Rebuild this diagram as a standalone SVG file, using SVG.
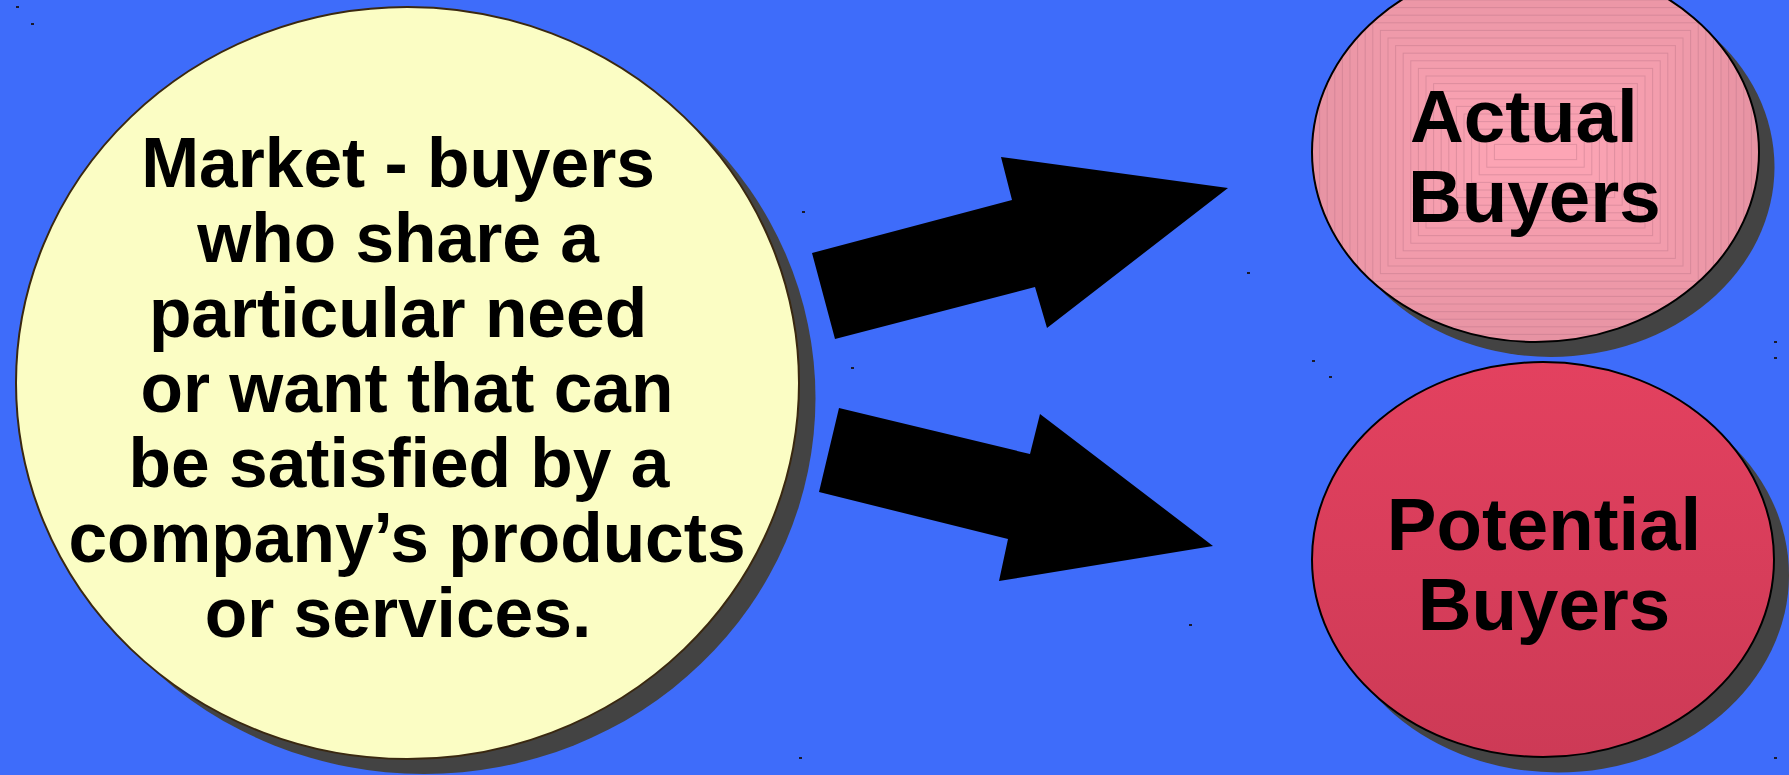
<svg xmlns="http://www.w3.org/2000/svg" width="1789" height="775" viewBox="0 0 1789 775">
  <style>
    .shadow { fill: #434343; }
    .lbl { font-family: "Liberation Sans", Arial, sans-serif; font-weight: bold; fill: #000000; }
    .big { font-size: 69.5px; text-anchor: middle; }
    .side { font-size: 74.5px; }
    .arrow { fill: #000000; }
    .speck { fill: #1a1a2a; }
    .ring { stroke: rgba(175,110,130,0.35); stroke-width: 1; }
  </style>
  <defs>
    <linearGradient id="potGrad" x1="0" y1="0" x2="0" y2="1">
      <stop offset="0" stop-color="#e3415f"/>
      <stop offset="1" stop-color="#cd3a56"/>
    </linearGradient>
    <clipPath id="actualClip">
      <ellipse cx="1535.5" cy="152" rx="223.5" ry="190"/>
    </clipPath>
  </defs>

  <rect x="0" y="0" width="1789" height="775" fill="#3e6cfa"/>

  <g id="specks">
    <rect class="speck" x="16" y="6" width="3" height="2"/>
    <rect class="speck" x="31" y="23" width="3" height="2"/>
    <rect class="speck" x="802" y="211" width="3" height="2"/>
    <rect class="speck" x="851" y="367" width="3" height="2"/>
    <rect class="speck" x="1247" y="272" width="3" height="2"/>
    <rect class="speck" x="1312" y="360" width="3" height="2"/>
    <rect class="speck" x="1329" y="376" width="3" height="2"/>
    <rect class="speck" x="1774" y="341" width="3" height="2"/>
    <rect class="speck" x="1774" y="357" width="3" height="2"/>
    <rect class="speck" x="1774" y="757" width="3" height="2"/>
    <rect class="speck" x="1189" y="624" width="3" height="2"/>
    <rect class="speck" x="799" y="757" width="3" height="2"/>
  </g>

  <g id="market">
    <ellipse class="shadow" cx="424" cy="398" rx="391.5" ry="376"/>
    <ellipse cx="407.5" cy="383" rx="391.5" ry="376" fill="#fbfdc4" stroke="#3a2810" stroke-width="2"/>
    <text class="lbl big" x="398" y="187">Market - buyers</text>
    <text class="lbl big" x="398" y="262">who share a</text>
    <text class="lbl big" x="398" y="337">particular need</text>
    <text class="lbl big" x="407" y="412">or want that can</text>
    <text class="lbl big" x="399" y="487">be satisfied by a</text>
    <text class="lbl big" x="407" y="562">company’s products</text>
    <text class="lbl big" x="398" y="637">or services.</text>
  </g>

  <g id="actual-buyers">
    <ellipse class="shadow" cx="1551" cy="167" rx="223.5" ry="190"/>
    <g clip-path="url(#actualClip)">
      <rect class="ring" x="1312" y="-38" width="447" height="380" fill="rgb(231,147,163)"/>
      <rect class="ring" x="1319.6" y="-30.4" width="431.8" height="364.8" fill="rgb(232,148,164)"/>
      <rect class="ring" x="1327.2" y="-22.8" width="416.6" height="349.6" fill="rgb(233,149,165)"/>
      <rect class="ring" x="1334.8" y="-15.2" width="401.4" height="334.4" fill="rgb(234,149,165)"/>
      <rect class="ring" x="1342.4" y="-7.6" width="386.2" height="319.2" fill="rgb(235,150,166)"/>
      <rect class="ring" x="1350" y="0" width="371" height="304" fill="rgb(236,151,167)"/>
      <rect class="ring" x="1357.6" y="7.6" width="355.8" height="288.8" fill="rgb(237,152,168)"/>
      <rect class="ring" x="1365.2" y="15.2" width="340.6" height="273.6" fill="rgb(237,152,168)"/>
      <rect class="ring" x="1372.8" y="22.8" width="325.4" height="258.4" fill="rgb(238,153,169)"/>
      <rect class="ring" x="1380.4" y="30.4" width="310.2" height="243.2" fill="rgb(239,154,170)"/>
      <rect class="ring" x="1388" y="38" width="295" height="228" fill="rgb(240,154,170)"/>
      <rect class="ring" x="1395.6" y="45.6" width="279.8" height="212.8" fill="rgb(241,155,171)"/>
      <rect class="ring" x="1403.2" y="53.2" width="264.6" height="197.6" fill="rgb(242,156,172)"/>
      <rect class="ring" x="1410.8" y="60.8" width="249.4" height="182.4" fill="rgb(243,157,173)"/>
      <rect class="ring" x="1418.4" y="68.4" width="234.2" height="167.2" fill="rgb(244,157,173)"/>
      <rect class="ring" x="1426" y="76" width="219" height="152" fill="rgb(245,158,174)"/>
      <rect class="ring" x="1433.6" y="83.6" width="203.8" height="136.8" fill="rgb(246,159,175)"/>
      <rect class="ring" x="1441.2" y="91.2" width="188.6" height="121.6" fill="rgb(247,160,176)"/>
      <rect class="ring" x="1448.8" y="98.8" width="173.4" height="106.4" fill="rgb(248,160,176)"/>
      <rect class="ring" x="1456.4" y="106.4" width="158.2" height="91.2" fill="rgb(248,161,177)"/>
      <rect class="ring" x="1464" y="114" width="143" height="76" fill="rgb(249,162,178)"/>
      <rect class="ring" x="1471.6" y="121.6" width="127.8" height="60.8" fill="rgb(250,163,179)"/>
      <rect class="ring" x="1479.2" y="129.2" width="112.6" height="45.6" fill="rgb(251,163,179)"/>
      <rect class="ring" x="1486.8" y="136.8" width="97.4" height="30.4" fill="rgb(252,164,180)"/>
      <rect class="ring" x="1494.4" y="144.4" width="82.2" height="15.2" fill="rgb(253,165,181)"/>
    </g>
    <ellipse cx="1535.5" cy="152" rx="223.5" ry="190" fill="none" stroke="#000000" stroke-width="2"/>
    <text class="lbl side" x="1410" y="142">Actual</text>
    <text class="lbl side" x="1408" y="222">Buyers</text>
  </g>

  <g id="potential-buyers">
    <ellipse class="shadow" cx="1558" cy="575" rx="231" ry="197.5"/>
    <ellipse cx="1543" cy="559.5" rx="231" ry="197.5" fill="url(#potGrad)" stroke="#000000" stroke-width="2"/>
    <text class="lbl side" x="1544" y="550" text-anchor="middle">Potential</text>
    <text class="lbl side" x="1544" y="630" text-anchor="middle">Buyers</text>
  </g>

  <g id="connectors">
    <polygon class="arrow" points="835,339 812,253 1012,200 1001,157 1228,188 1047,328 1035,287"/>
    <polygon class="arrow" points="839,408 1030,454 1040,414 1213,546 999,581 1008,539 819,492"/>
  </g>
</svg>
